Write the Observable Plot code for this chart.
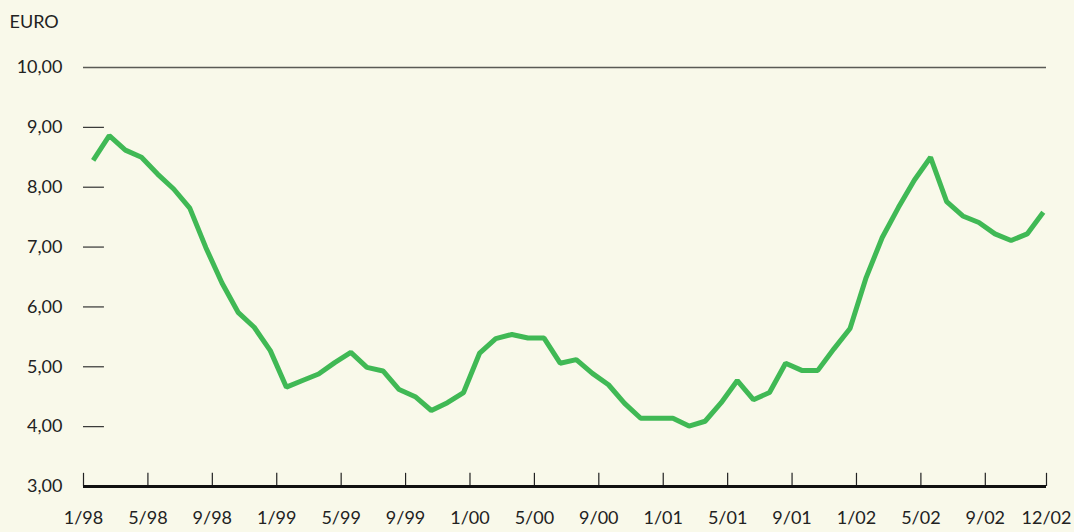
<!DOCTYPE html>
<html>
<head>
<meta charset="utf-8">
<script src="https://cdn.jsdelivr.net/npm/d3@7"></script>
<script src="https://cdn.jsdelivr.net/npm/@observablehq/plot@0.6"></script>
<style>
  html, body { margin: 0; padding: 0; background: #f9f9ea; }
  #chart svg { display: block; }
</style>
</head>
<body>
<div id="chart"></div>
<script>
// ---- data ----
const yLabel = "EURO";
const prices = [8.45, 8.86, 8.62, 8.50, 8.22, 7.97, 7.65, 6.99, 6.40, 5.91,
                5.66, 5.27, 4.66, 4.77, 4.88, 5.07, 5.24, 4.99, 4.93, 4.62,
                4.50, 4.27, 4.40, 4.57, 5.23, 5.47, 5.54, 5.48, 5.48, 5.06,
                5.12, 4.89, 4.70, 4.39, 4.14, 4.14, 4.14, 4.01, 4.09, 4.40,
                4.77, 4.45, 4.57, 5.06, 4.94, 4.94, 5.30, 5.64, 6.49, 7.16,
                7.66, 8.12, 8.50, 7.76, 7.52, 7.41, 7.22, 7.11, 7.22, 7.58];
const monthIndex = prices.map((_, i) => i); // 0 = Jan 1998 ... 59 = Dec 2002
const xTickLabels = ["1/98","5/98","9/98","1/99","5/99","9/99","1/00","5/00","9/00",
                     "1/01","5/01","9/01","1/02","5/02","9/02","12/02"];
const xTickMonths = [0,4,8,12,16,20,24,28,32,36,40,44,48,52,56,59.8];
const yTicks = [3,4,5,6,7,8,9,10];
const yInnerTicks = [4,5,6,7,8,9];

// ---- layout/style ----
const pointOffset = 0.6;   // points sit within the month
const xDomain = [0, 59.8];
const ink = "#222";
const fmt = d => d.toFixed(2).replace(".", ",");

const data = monthIndex.map((m, i) => ({m: m + pointOffset, v: prices[i]}));
const xLabelOf = new Map(xTickMonths.map((m, i) => [m, xTickLabels[i]]));

const chart = Plot.plot({
  width: 1074,
  height: 532,
  marginLeft: 83,
  marginRight: 28,
  marginTop: 67,
  marginBottom: 46,
  style: {background: "#f9f9ea", fontFamily: "Lato, 'Open Sans', sans-serif", fontSize: "18px", color: ink},
  x: {domain: xDomain, axis: null, label: null},
  y: {domain: [3, 10], axis: null, label: null},
  marks: [
    // top line at 10
    Plot.ruleY([10], {stroke: "#5a5a55", strokeWidth: 1.6}),
    // short inward y ticks
    Plot.ruleY(yInnerTicks, {x1: xDomain[0], x2: xDomain[0] + 1.3, stroke: "#333", strokeWidth: 1.2}),
    // y labels
    Plot.axisY(yTicks, {tickSize: 0, tickPadding: 21, tickFormat: fmt, fill: ink, fontSize: 18, label: null}),
    // x ticks (pointing up)
    Plot.ruleX(xTickMonths, {y1: 3, y2: 3.22, stroke: "#222", strokeWidth: 1.2}),
    // x axis line
    Plot.ruleY([3], {stroke: "#111", strokeWidth: 3}),
    // x labels
    Plot.axisX(xTickMonths, {tickSize: 0, tickPadding: 25, tickFormat: d => xLabelOf.get(d), fill: ink, fontSize: 18, label: null}),
    // series
    Plot.line(data, {x: "m", y: "v", stroke: "#40b955", strokeWidth: 5, strokeLinejoin: "miter", strokeLinecap: "butt"}),
    // unit label
    Plot.text([yLabel], {frameAnchor: "top-left", text: d => d, dx: -74, dy: -52, lineAnchor: "top", textAnchor: "start", fill: ink, fontSize: 18})
  ]
});
document.getElementById("chart").append(chart);
</script>
</body>
</html>
